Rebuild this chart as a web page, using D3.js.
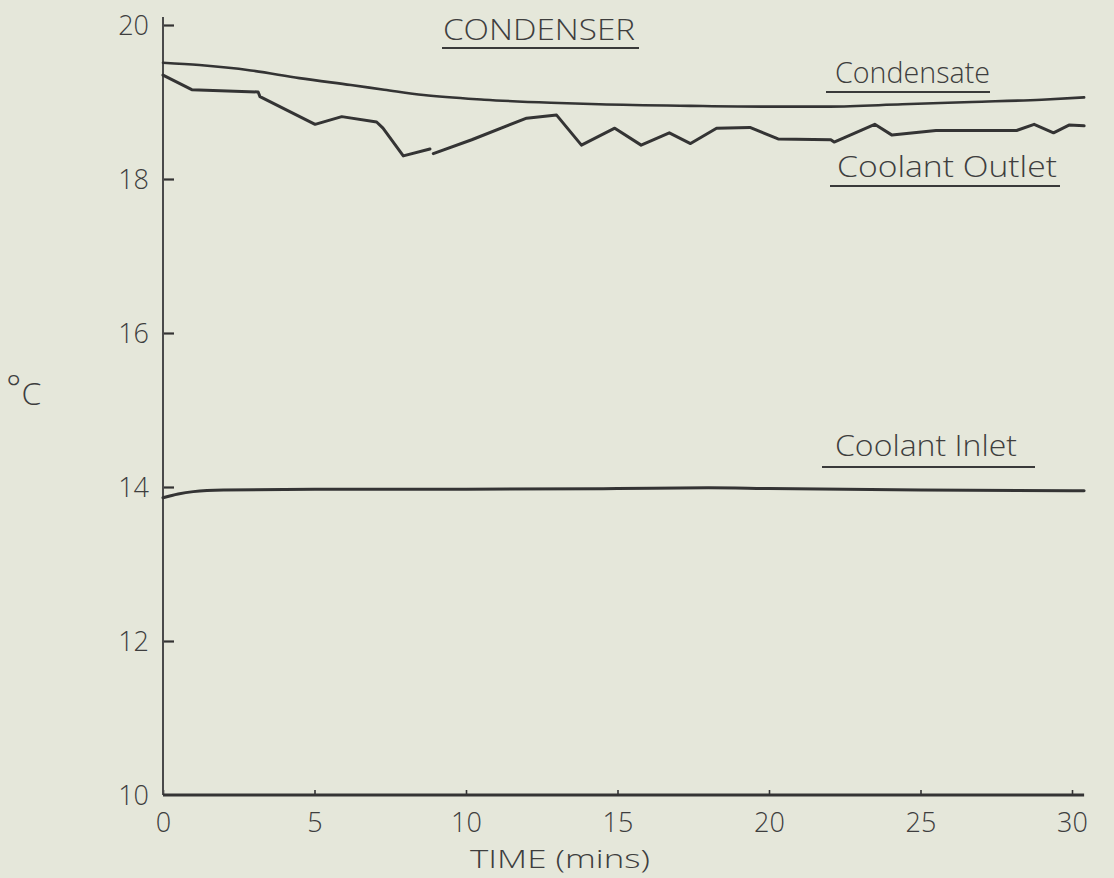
<!DOCTYPE html>
<html>
<head>
<meta charset="utf-8">
<script src="https://cdn.jsdelivr.net/npm/d3@7"></script>
<style>
  html, body { margin: 0; padding: 0; background: #e5e7da; }
  svg { display: block; }
  text { font-family: "Open Sans", "DejaVu Sans", sans-serif; font-weight: 300; fill: #3e3e3e; }
</style>
</head>
<body>
<svg id="chart" width="1114" height="878"></svg>
<script>
// Condenser temperatures over a 30-minute run (time in mins, temperature in °C)
const condensateTime = [0, 1.2, 2.9, 4.5, 6.2, 7.3, 8.6, 10.6, 12.8, 14.4, 17.4, 20.0, 22.0, 24.4, 26.7, 29.0, 30.4];
const condensateTemp = [19.51, 19.48, 19.41, 19.31, 19.22, 19.16, 19.09, 19.03, 18.99, 18.97, 18.95, 18.94, 18.94, 18.97, 19.00, 19.03, 19.06];

// Coolant outlet trace; null marks the break in the recorded line
const outletTime = [0, 0.95, 3.14, 3.2, 5.02, 5.9, 7.05, 7.26, 7.93, 8.81, null, 8.92, 10.19, 12.0, 12.99, 13.81, 14.91, 15.78, 16.71, 17.41, 18.27, 19.37, 20.3, 22.04, 22.15, 23.49, 24.06, 25.51, 28.17, 28.75, 29.39, 29.9, 30.4];
const outletTemp = [19.35, 19.16, 19.13, 19.07, 18.71, 18.81, 18.74, 18.66, 18.30, 18.39, null, 18.33, 18.51, 18.79, 18.83, 18.44, 18.66, 18.44, 18.60, 18.46, 18.66, 18.67, 18.52, 18.51, 18.48, 18.71, 18.57, 18.63, 18.63, 18.71, 18.60, 18.70, 18.69];

const inletTime = [0, 0.5, 1, 2, 5, 10, 15, 18, 20, 25, 30.4];
const inletTemp = [13.86, 13.91, 13.94, 13.96, 13.97, 13.97, 13.98, 13.99, 13.98, 13.96, 13.95];

const xTicks = [0, 5, 10, 15, 20, 25, 30];
const yTicks = [10, 12, 14, 16, 18, 20];

const svg = d3.select("#chart");
const ink = "#343434";

const x = d3.scaleLinear().domain([0, 30]).range([163, 1072]);
const y = d3.scaleLinear().domain([10, 20]).range([795, 25]);

// Axes: ticks point inward, labels outside
const yAxis = d3.axisLeft(y).tickValues(yTicks.filter(v => v > 10)).tickSizeInner(-11).tickSizeOuter(0).tickPadding(14);
const gy = svg.append("g").attr("transform", `translate(${x(0)},0)`).call(yAxis);
gy.select(".domain").remove();
gy.selectAll(".tick line").attr("stroke", ink).attr("stroke-width", 2.2);
gy.selectAll(".tick text").attr("font-size", 27).attr("dy", "0.36em").style("fill", "#3e3e3e").style("font-family", null);

// "10" label sits at the corner
svg.append("text").attr("x", x(0) - 14).attr("y", y(10)).attr("dy", "0.36em")
  .attr("text-anchor", "end").attr("font-size", 27).text(yTicks[0]);

const xAxis = d3.axisBottom(x).tickValues(xTicks).tickSizeInner(-5).tickSizeOuter(0).tickPadding(18);
const gx = svg.append("g").attr("transform", `translate(0,${y(10)})`).call(xAxis);
gx.select(".domain").remove();
gx.selectAll(".tick line").attr("stroke", ink).attr("stroke-width", 1.6);
gx.selectAll(".tick text").attr("font-size", 27).style("fill", "#3e3e3e").style("font-family", null);

// Axis lines
svg.append("line").attr("x1", x(0)).attr("x2", x(0)).attr("y1", 17).attr("y2", y(10))
  .attr("stroke", "#4a4a4a").attr("stroke-width", 2);
svg.append("line").attr("x1", x(0)).attr("x2", x(30.4)).attr("y1", y(10)).attr("y2", y(10))
  .attr("stroke", ink).attr("stroke-width", 2.8);

// Series lines
const line = d3.line()
  .defined(d => d[0] !== null)
  .x(d => x(d[0])).y(d => y(d[1]))
  .curve(d3.curveLinear);

const series = [
  { t: condensateTime, v: condensateTemp, w: 2.6, curve: d3.curveMonotoneX },
  { t: outletTime, v: outletTemp, w: 3.0, curve: d3.curveLinear },
  { t: inletTime, v: inletTemp, w: 3.0, curve: d3.curveMonotoneX }
];
series.forEach(s => {
  svg.append("path")
    .datum(s.t.map((t, i) => [t, s.v[i]]))
    .attr("fill", "none").attr("stroke", ink).attr("stroke-width", s.w)
    .attr("stroke-linejoin", "round").attr("stroke-linecap", "round")
    .attr("d", line.curve(s.curve));
});

// Titles and underlined labels
const labels = [
  { text: "CONDENSER", x: 443, y: 40, len: 192, size: 30, ux1: 442, ux2: 639, uy: 48 },
  { text: "Condensate", x: 835, y: 83, len: 155, size: 29, ux1: 826, ux2: 990, uy: 92 },
  { text: "Coolant Outlet", x: 837, y: 177, len: 220, size: 29, ux1: 830, ux2: 1060, uy: 186 },
  { text: "Coolant Inlet", x: 835, y: 456, len: 182, size: 29, ux1: 822, ux2: 1035, uy: 467 }
];
labels.forEach(l => {
  svg.append("text").attr("x", l.x).attr("y", l.y).attr("font-size", l.size)
    .attr("textLength", l.len).attr("lengthAdjust", "spacingAndGlyphs").text(l.text);
  svg.append("line").attr("x1", l.ux1).attr("x2", l.ux2).attr("y1", l.uy).attr("y2", l.uy)
    .attr("stroke", "#3a3a3a").attr("stroke-width", 2.2);
});

// Axis titles
const unit = svg.append("text").attr("x", 6).attr("y", 405).attr("font-size", 32);
unit.append("tspan").attr("font-size", 36).attr("dy", -4).text("°");
unit.append("tspan").attr("dx", 0).attr("dy", 4).text("C");

svg.append("text").attr("x", 470).attr("y", 868).attr("font-size", 26)
  .attr("textLength", 180).attr("lengthAdjust", "spacingAndGlyphs").text("TIME (mins)");
</script>
</body>
</html>
